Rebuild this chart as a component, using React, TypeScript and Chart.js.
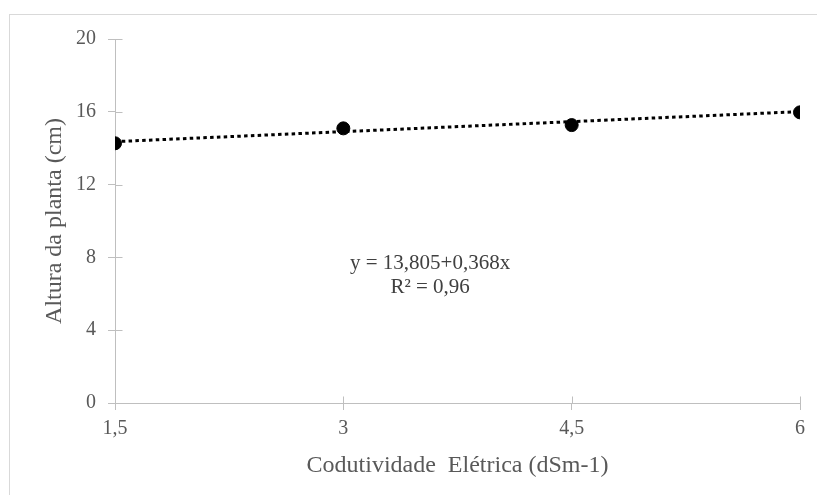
import React, { useEffect, useRef } from "react";
import { Chart, registerables } from "chart.js";

Chart.register(...registerables);

const xValues = [1.5, 3, 4.5, 6];
const xTickLabels = ["1,5", "3", "4,5", "6"];
const alturaValues = [14.27, 15.09, 15.27, 15.97];
const trendValues = [14.36, 14.91, 15.46, 16.01];
const equationLines = ["y = 13,805+0,368x", "R² = 0,96"];
const equationAnchor = { x: 3.57, y1: 7.69, y2: 6.32 };

const FONT = "'Liberation Serif', 'Times New Roman', serif";
const AXIS = "#bfbfbf";
const TEXT = "#595959";

export default function App() {
  const ref = useRef<HTMLCanvasElement | null>(null);

  useEffect(() => {
    if (!ref.current) return;

    const crossTicks = {
      id: "crossTicks",
      afterDraw(chart: any) {
        const ctx = chart.ctx;
        const xs = chart.scales.x;
        const ys = chart.scales.y;
        ctx.save();
        ctx.strokeStyle = AXIS;
        ctx.lineWidth = 1;
        ctx.beginPath();
        ys.ticks.forEach((t: any) => {
          const py = Math.round(ys.getPixelForValue(t.value)) + 0.5;
          const px = Math.round(xs.left) + 0.5;
          ctx.moveTo(px, py);
          ctx.lineTo(px + 7, py);
        });
        xs.ticks.forEach((t: any) => {
          const px = Math.round(xs.getPixelForValue(t.value)) + 0.5;
          const py = Math.round(ys.bottom) + 0.5;
          ctx.moveTo(px, py);
          ctx.lineTo(px, py - 7);
        });
        ctx.stroke();

        ctx.fillStyle = "#404040";
        ctx.font = `21px ${FONT}`;
        ctx.textAlign = "center";
        ctx.textBaseline = "middle";
        const ex = xs.getPixelForValue(equationAnchor.x);
        ctx.fillText(equationLines[0], ex, ys.getPixelForValue(equationAnchor.y1));
        ctx.fillText(equationLines[1], ex, ys.getPixelForValue(equationAnchor.y2));
        ctx.restore();
      },
    };

    const chart = new Chart(ref.current, {
      type: "scatter",
      data: {
        datasets: [
          {
            label: "Altura",
            data: xValues.map((x, i) => ({ x, y: alturaValues[i] })),
            backgroundColor: "#000000",
            borderColor: "#000000",
            pointRadius: 6.5,
            pointHoverRadius: 6.5,
            showLine: false,
            order: 0,
          },
          {
            label: "Tendência",
            data: xValues.map((x, i) => ({ x, y: trendValues[i] })),
            borderColor: "#000000",
            borderWidth: 3,
            borderDash: [3.5, 3.3],
            pointRadius: 0,
            showLine: true,
            fill: false,
            order: 1,
          },
        ],
      },
      options: {
        responsive: false,
        animation: false,
        layout: { padding: { left: 0, right: 17, top: 39, bottom: 0 } },
        plugins: {
          legend: { display: false },
          tooltip: { enabled: false },
        },
        scales: {
          x: {
            type: "linear",
            min: 1.5,
            max: 6,
            afterFit: (s: any) => {
              s.height = 92;
            },
            afterBuildTicks: (s: any) => {
              s.ticks = xValues.map((v) => ({ value: v }));
            },
            ticks: {
              stepSize: 1.5,
              color: TEXT,
              padding: 7,
              maxRotation: 0,
              font: { family: FONT, size: 20 },
              callback: (v: any) => {
                const i = xValues.indexOf(Number(v));
                return i >= 0 ? xTickLabels[i] : "";
              },
            },
            grid: {
              display: true,
              drawOnChartArea: false,
              drawTicks: true,
              tickLength: 7,
              color: AXIS,
            },
            border: { display: true, color: AXIS },
            title: {
              display: true,
              text: "Codutividade  Elétrica (dSm-1)",
              color: TEXT,
              font: { family: FONT, size: 24 },
              padding: { top: 0, bottom: 14.6 },
            },
          },
          y: {
            min: 0,
            max: 20,
            afterFit: (s: any) => {
              s.width = 115;
            },
            ticks: {
              stepSize: 4,
              color: TEXT,
              padding: 12,
              font: { family: FONT, size: 20 },
            },
            grid: {
              display: true,
              drawOnChartArea: false,
              drawTicks: true,
              tickLength: 7,
              color: AXIS,
            },
            border: { display: true, color: AXIS },
            title: {
              display: true,
              text: "Altura da planta (cm)",
              color: TEXT,
              font: { family: FONT, size: 24 },
              padding: { top: 40, bottom: 0 },
            },
          },
        },
      },
      plugins: [crossTicks],
    } as any);

    return () => chart.destroy();
  }, []);

  return (
    <div
      style={{
        position: "absolute",
        left: 0,
        top: 0,
        width: 817,
        height: 495,
        overflow: "hidden",
        background: "#ffffff",
      }}
    >
      <div
        style={{
          position: "absolute",
          left: 9,
          top: 14,
          width: 900,
          height: 600,
          border: "1px solid #d9d9d9",
        }}
      />
      <canvas
        ref={ref}
        width={817}
        height={495}
        style={{ position: "absolute", left: 0, top: 0, width: 817, height: 495 }}
      />
    </div>
  );
}
